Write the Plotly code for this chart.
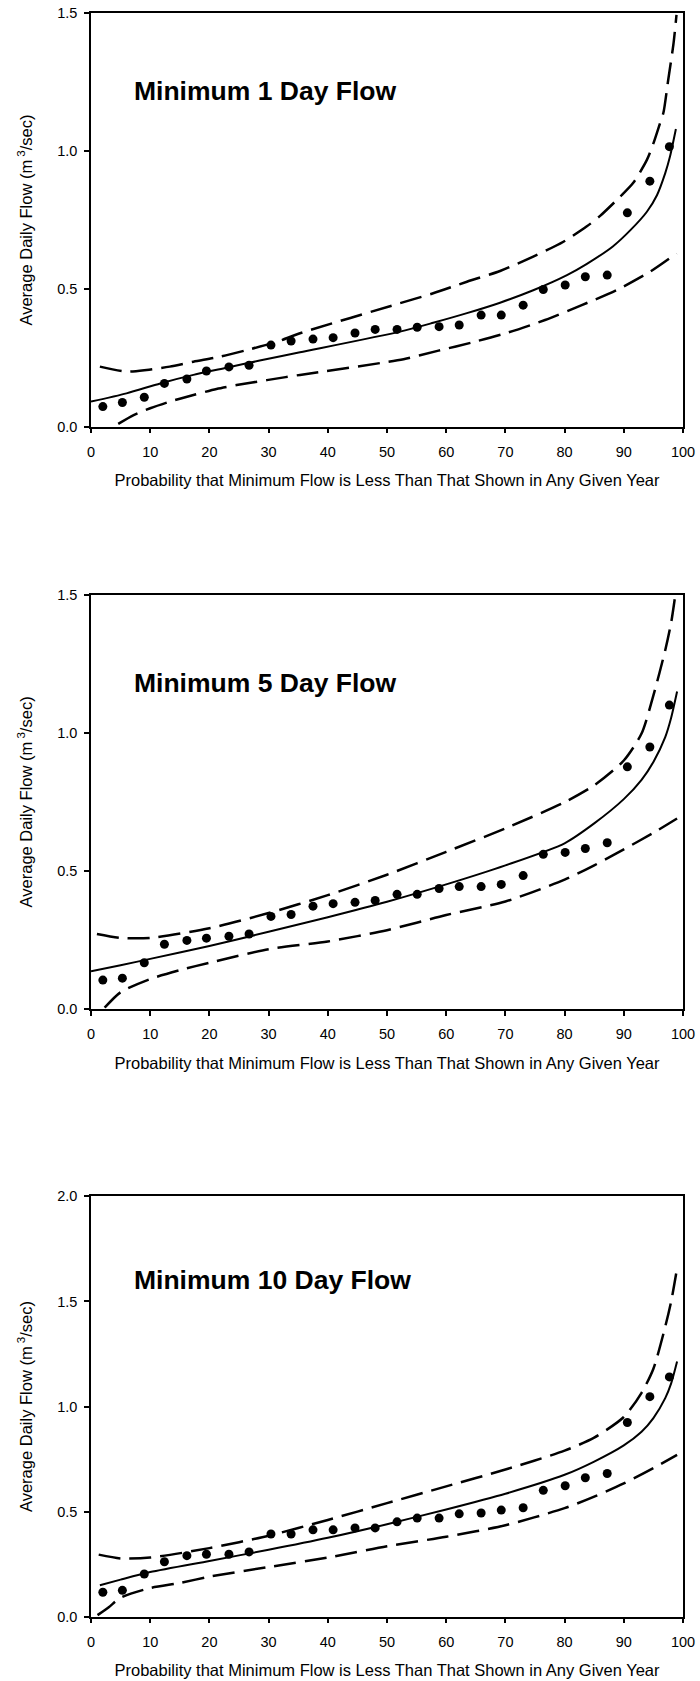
import plotly.graph_objects as go

# ---------------- data ----------------
obs_prob = [2.0, 5.3, 9.0, 12.4, 16.2, 19.5, 23.3, 26.7, 30.4, 33.8, 37.5, 40.9, 44.6, 48.0,
            51.7, 55.1, 58.8, 62.2, 65.9, 69.3, 73.0, 76.4, 80.1, 83.5, 87.2, 90.6, 94.4, 97.7]

# Minimum 1 day flow
obs1 = [0.073, 0.088, 0.107, 0.157, 0.173, 0.202, 0.217, 0.223, 0.296, 0.311, 0.318, 0.323, 0.340, 0.353,
        0.353, 0.361, 0.363, 0.369, 0.405, 0.405, 0.441, 0.498, 0.514, 0.544, 0.550, 0.776, 0.891, 1.016]
fit1_x = [0, 6.0, 11.7, 17.3, 22.9, 28.5, 35.3, 52.2, 57.8, 63.5, 69.1, 74.7, 80.4, 83.7, 88.2, 91.2, 93.9, 95.6, 97.0, 97.8, 98.8]
fit1_y = [0.091, 0.121, 0.157, 0.188, 0.214, 0.240, 0.270, 0.345, 0.377, 0.412, 0.450, 0.495, 0.550, 0.590, 0.655, 0.715, 0.780, 0.840, 0.920, 0.980, 1.080]
up1_x = [1.5, 6.0, 9.4, 13.3, 17.3, 21.8, 26.3, 31.4, 35.3, 52.2, 57.8, 63.5, 69.1, 74.7, 79.8, 83.7, 86.0, 89.4, 91.6, 93.9, 95.0, 96.1, 96.7, 97.5, 98.4, 98.9]
up1_y = [0.218, 0.200, 0.206, 0.218, 0.236, 0.254, 0.278, 0.308, 0.339, 0.448, 0.484, 0.526, 0.565, 0.617, 0.671, 0.726, 0.765, 0.835, 0.885, 0.968, 1.028, 1.100, 1.140, 1.258, 1.391, 1.494]
lo1_x = [4.6, 7.2, 10.0, 13.3, 17.3, 21.2, 24.6, 29.7, 35.3, 52.8, 58.7, 64.6, 70.2, 76.7, 82.9, 88.8, 94.4, 98.9]
lo1_y = [0.010, 0.042, 0.067, 0.091, 0.115, 0.137, 0.151, 0.169, 0.188, 0.245, 0.276, 0.307, 0.340, 0.387, 0.441, 0.496, 0.562, 0.629]

# Minimum 5 day flow
obs2 = [0.104, 0.111, 0.167, 0.234, 0.248, 0.256, 0.263, 0.271, 0.335, 0.342, 0.372, 0.381, 0.386, 0.393,
        0.415, 0.415, 0.436, 0.443, 0.443, 0.451, 0.483, 0.560, 0.567, 0.581, 0.602, 0.877, 0.949, 1.101]
fit2_x = [0, 5, 10, 20, 30, 40, 50, 60, 70, 80, 85, 90, 93, 95, 97, 98, 99]
fit2_y = [0.136, 0.158, 0.181, 0.228, 0.279, 0.332, 0.388, 0.451, 0.520, 0.600, 0.672, 0.760, 0.830, 0.895, 0.985, 1.055, 1.150]
up2_x = [1, 5, 10, 20, 30, 40, 50, 60, 70, 80, 85, 90, 93, 95, 97, 98, 98.7]
up2_y = [0.271, 0.257, 0.257, 0.292, 0.347, 0.412, 0.486, 0.569, 0.654, 0.749, 0.810, 0.900, 0.998, 1.136, 1.300, 1.400, 1.500]
lo2_x = [2.3, 5, 10, 15, 20, 30, 40, 50, 60, 70, 80, 85, 90, 95, 99]
lo2_y = [0.004, 0.060, 0.108, 0.140, 0.167, 0.216, 0.244, 0.285, 0.340, 0.389, 0.468, 0.520, 0.578, 0.638, 0.690]

# Minimum 10 day flow
obs3 = [0.116, 0.125, 0.203, 0.261, 0.290, 0.297, 0.297, 0.308, 0.393, 0.393, 0.413, 0.413, 0.422, 0.422,
        0.451, 0.469, 0.469, 0.489, 0.493, 0.507, 0.518, 0.601, 0.623, 0.661, 0.681, 0.924, 1.047, 1.141]
fit3_x = [1.5, 5, 10, 20, 30, 40, 50, 60, 70, 80, 85, 90, 93, 95, 97, 98, 99]
fit3_y = [0.149, 0.176, 0.212, 0.265, 0.318, 0.375, 0.440, 0.510, 0.585, 0.675, 0.738, 0.815, 0.880, 0.945, 1.040, 1.110, 1.214]
up3_x = [1.3, 5, 10, 20, 30, 40, 50, 60, 70, 80, 85, 90, 93, 95, 97, 98, 99]
up3_y = [0.295, 0.277, 0.281, 0.326, 0.385, 0.460, 0.540, 0.620, 0.700, 0.790, 0.852, 0.950, 1.065, 1.180, 1.380, 1.500, 1.658]
lo3_x = [1.1, 3, 5, 10, 15, 20, 30, 40, 50, 60, 70, 80, 85, 90, 95, 99]
lo3_y = [0.007, 0.045, 0.090, 0.136, 0.160, 0.190, 0.236, 0.281, 0.335, 0.380, 0.435, 0.516, 0.571, 0.634, 0.707, 0.770]

titles = ["Minimum 1 Day Flow", "Minimum 5 Day Flow", "Minimum 10 Day Flow"]
y_max = [1.5, 1.5, 2.0]
x_ticks = [0, 10, 20, 30, 40, 50, 60, 70, 80, 90, 100]
x_title = "Probability that Minimum Flow is Less Than That Shown in Any Given Year"
y_title = "Average Daily Flow (m<sup> 3</sup>/sec)"

# ---------------- layout helpers ----------------
W, H = 700, 1681
FONT = "Liberation Sans, Arial, sans-serif"
x_px = (91, 683)
y_px = [(13.3, 426.7), (595.0, 1008.8), (1196.4, 1616.6)]
title_px = [91, 683, 1280]

panels = [
    (obs1, fit1_x, fit1_y, up1_x, up1_y, lo1_x, lo1_y),
    (obs2, fit2_x, fit2_y, up2_x, up2_y, lo2_x, lo2_y),
    (obs3, fit3_x, fit3_y, up3_x, up3_y, lo3_x, lo3_y),
]

fig = go.Figure()
layout = dict(
    width=W, height=H, margin=dict(l=0, r=0, t=0, b=0, autoexpand=False),
    paper_bgcolor="white", plot_bgcolor="white", showlegend=False,
    font=dict(family=FONT, color="black", size=14),
    annotations=[],
)

dash = "22px,9px"
for i, (obs, fx, fy, ux, uy, lx, ly) in enumerate(panels):
    k = "" if i == 0 else str(i + 1)
    xa, ya = "x" + k, "y" + k
    fig.add_trace(go.Scatter(x=ux, y=uy, mode="lines",
                             line=dict(color="black", width=2.5, dash=dash, shape="spline", smoothing=0.7),
                             xaxis=xa, yaxis=ya))
    fig.add_trace(go.Scatter(x=lx, y=ly, mode="lines",
                             line=dict(color="black", width=2.5, dash=dash, shape="spline", smoothing=0.7),
                             xaxis=xa, yaxis=ya))
    fig.add_trace(go.Scatter(x=fx, y=fy, mode="lines",
                             line=dict(color="black", width=2, shape="spline", smoothing=0.7),
                             xaxis=xa, yaxis=ya))
    fig.add_trace(go.Scatter(x=obs_prob, y=obs, mode="markers", marker=dict(color="black", size=9),
                             xaxis=xa, yaxis=ya))

    top, bot = y_px[i]
    dom_y = [1 - bot / H, 1 - top / H]
    dom_x = [x_px[0] / W, x_px[1] / W]
    axis_common = dict(showline=True, linecolor="black", linewidth=1.5, mirror=True,
                       ticks="outside", ticklen=5, tickwidth=1.5, tickcolor="black",
                       showgrid=False, zeroline=False, automargin=False,
                       tickfont=dict(size=14.5, family=FONT))
    layout["xaxis" + k] = dict(axis_common, domain=dom_x, range=[0, 100], tickvals=x_ticks,
                               anchor=ya, ticklabelstandoff=6,
                               title=dict(text=x_title, font=dict(size=16.5, family=FONT), standoff=16))
    layout["yaxis" + k] = dict(axis_common, domain=dom_y, range=[0, y_max[i]], dtick=0.5, tickformat=".1f",
                               anchor=xa, ticklabelstandoff=4,
                               title=dict(text=y_title, font=dict(size=16.5, family=FONT), standoff=20))
    layout["annotations"].append(dict(
        text="<b>" + titles[i] + "</b>", xref="paper", yref="paper",
        x=132 / W, y=1 - title_px[i] / H, xanchor="left", yanchor="middle",
        showarrow=False, font=dict(size=26.5, family=FONT, color="black")))

fig.update_layout(**layout)
fig.write_html("out.html", config={"displayModeBar": False},
               post_script="document.body.style.margin='0px';document.body.style.overflow='hidden';")
